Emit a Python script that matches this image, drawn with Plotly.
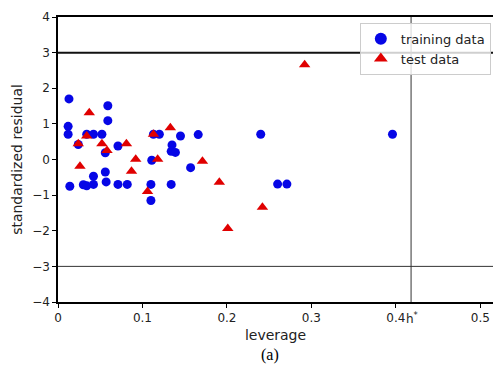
import plotly.graph_objects as go

# training data (leverage, standardized residual)
train_lev = [0.013, 0.012, 0.012, 0.024, 0.034, 0.042, 0.052, 0.059, 0.059, 0.056,
             0.071, 0.113, 0.120, 0.145, 0.135, 0.134, 0.139, 0.166, 0.111, 0.157,
             0.056, 0.042, 0.057, 0.014, 0.030, 0.034, 0.042, 0.071, 0.082, 0.110,
             0.110, 0.134, 0.240, 0.396, 0.260, 0.271]
train_res = [1.70, 0.93, 0.71, 0.42, 0.71, 0.71, 0.71, 1.51, 1.09, 0.19,
             0.38, 0.71, 0.71, 0.66, 0.41, 0.23, 0.20, 0.70, -0.02, -0.23,
             -0.35, -0.47, -0.63, -0.75, -0.71, -0.74, -0.70, -0.70, -0.70, -0.70,
             -1.15, -0.70, 0.71, 0.71, -0.69, -0.69]

# test data
test_lev = [0.037, 0.024, 0.034, 0.052, 0.058, 0.026, 0.081, 0.092, 0.087, 0.113,
            0.133, 0.118, 0.171, 0.106, 0.191, 0.201, 0.242, 0.292]
test_res = [1.31, 0.44, 0.66, 0.44, 0.25, -0.19, 0.44, 0.01, -0.33, 0.71,
            0.89, 0.01, -0.05, -0.90, -0.64, -1.94, -1.34, 2.66]

h_star = 0.418
x_ticks = [0, 0.1, 0.2, 0.3, 0.4, 0.5]
x_tick_text = ["0", "0.1", "0.2", "0.3", "0.4", "0.5"]
y_ticks = [-4, -3, -2, -1, 0, 1, 2, 3, 4]
y_tick_text = ["\u22124", "\u22123", "\u22122", "\u22121", "0", "1", "2", "3", "4"]

font = "DejaVu Sans, sans-serif"

fig = go.Figure()
fig.add_trace(go.Scatter(x=train_lev, y=train_res, mode="markers", name="training data",
                         marker=dict(symbol="circle", size=9, color="#0606e6")))
fig.add_trace(go.Scatter(x=test_lev, y=test_res, mode="markers", name="test data",
                         marker=dict(symbol="triangle-up", size=10, color="#e00000")))

fig.add_shape(type="line", xref="paper", yref="y", x0=0, x1=1, y0=3, y1=3,
              line=dict(color="#111111", width=2))
fig.add_shape(type="line", xref="paper", yref="y", x0=0, x1=1, y0=-3, y1=-3,
              line=dict(color="#333333", width=1))
fig.add_shape(type="line", xref="x", yref="paper", x0=h_star, x1=h_star, y0=0, y1=1,
              line=dict(color="#333333", width=1))

fig.add_annotation(x=h_star, y=0, xref="x", yref="paper", xanchor="center", yanchor="middle",
                   yshift=-16, xshift=1,
                   text="h<sup>*</sup>", showarrow=False,
                   font=dict(family=font, size=12, color="#222222"))
fig.add_annotation(x=(270 - 58) / 435, y=0, xref="paper", yref="paper",
                   xanchor="center", yanchor="middle", yshift=-53,
                   text="(a)", showarrow=False,
                   font=dict(family="Liberation Serif, serif", size=16, color="black"))

fig.update_layout(
    width=493, height=374,
    margin=dict(l=58, r=0, t=17, b=72),
    plot_bgcolor="white", paper_bgcolor="white",
    font=dict(family=font, size=12, color="#222222"),
    showlegend=True,
    legend=dict(x=0.995, y=0.98, xanchor="right", yanchor="top",
                bgcolor="rgba(255,255,255,0.8)", bordercolor="#cccccc", borderwidth=1,
                font=dict(family=font, size=13, color="#222222"),
                tracegroupgap=0, itemsizing="constant"),
    xaxis=dict(range=[0, 0.515], tickvals=x_ticks, ticktext=x_tick_text,
               showgrid=False, zeroline=False, showline=True, mirror=True,
               linecolor="black", linewidth=1.5, ticks="outside", ticklen=4,
               tickcolor="black", title=dict(text="leverage", standoff=6),
               tickfont=dict(family=font, size=12, color="#222222")),
    yaxis=dict(range=[-4, 4], tickvals=y_ticks, ticktext=y_tick_text,
               showgrid=False, zeroline=False, showline=True, mirror=False,
               linecolor="black", linewidth=1.5, ticks="outside", ticklen=4,
               tickcolor="black", title=dict(text="standardized residual", standoff=6),
               tickfont=dict(family=font, size=12, color="#222222")),
)

fig.write_html("out.html")
